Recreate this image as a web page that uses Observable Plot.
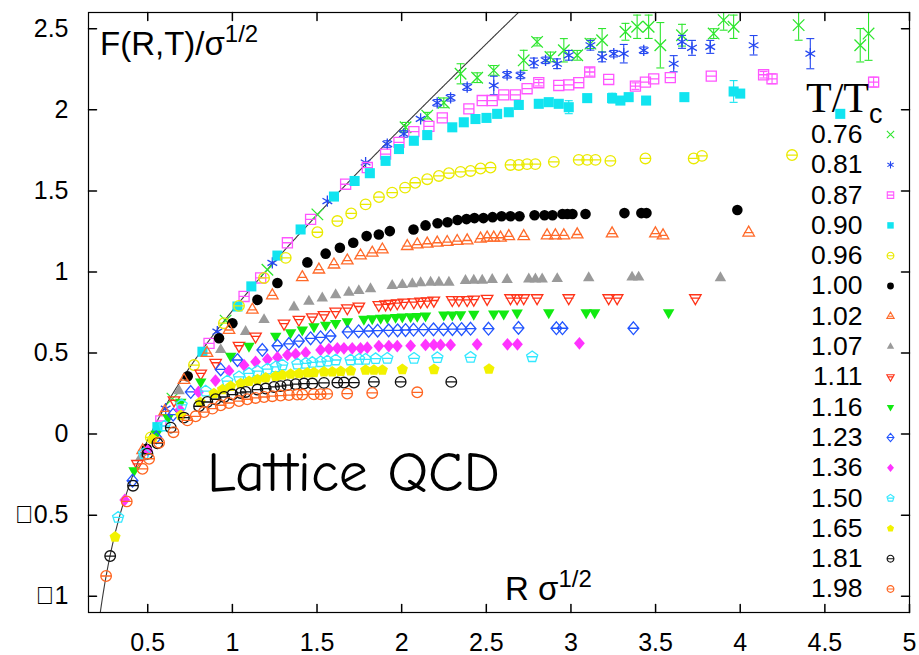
<!DOCTYPE html>
<html>
<head>
<meta charset="utf-8">
<script src="https://cdn.jsdelivr.net/npm/d3@7"></script>
<script src="https://cdn.jsdelivr.net/npm/@observablehq/plot@0.6"></script>
<style>
  html, body { margin: 0; padding: 0; background: #fff; }
  #chart { width: 919px; height: 655px; overflow: hidden; }
</style>
</head>
<body>
<div id="chart"></div>
<script>
// Temperatures T/Tc, one series each
const tempLabels = ["0.76","0.81","0.87","0.90","0.96","1.00","1.02","1.07","1.11","1.16","1.23","1.36","1.50","1.65","1.81","1.98"];

// Axis ticks
const xTicks = [0.5, 1, 1.5, 2, 2.5, 3, 3.5, 4, 4.5, 5];
const yTicks = [-1, -0.5, 0, 0.5, 1, 1.5, 2, 2.5];
const xDomain = [0.15, 5];
const yDomain = [-1.1, 2.6];

// Zero-temperature potential: F = s*R - a/R + c
const modelSlope = 0.973;
const modelCoulomb = 0.31;
const modelOffset = 0.098;

// [R sqrt(sigma), F/sqrt(sigma), error]
const t076 = [[0.646,0.219,0],[0.96,0.70,0],[1.207,1.014,0],[1.502,1.355,0],[2.023,1.892,0.03],[2.151,1.964,0.02],[2.249,2.043,0.03],[2.348,2.222,0.062],[2.446,2.198,0.03],[2.544,2.243,0.03],[2.721,2.305,0.062],[2.80,2.419,0.025],[2.879,2.326,0.03],[2.958,2.367,0.072],[3.037,2.336,0.03],[3.115,2.408,0.03],[3.184,2.429,0.072],[3.322,2.481,0.052],[3.391,2.512,0.072],[3.459,2.512,0.072],[3.528,2.398,0.14],[3.656,2.46,0.067],[3.843,2.47,0.03],[3.902,2.553,0.062],[3.961,2.512,0.072],[4.345,2.522,0.093],[4.709,2.398,0.103],[4.758,2.47,0.165]];
const t081 = [[0.606,0.157,0],[0.911,0.632,0],[1.236,1.056,0],[1.561,1.437,0],[1.787,1.675,0],[1.915,1.789,0.02],[2.013,1.851,0.02],[2.112,1.944,0],[2.21,2.043,0.02],[2.289,2.074,0.02],[2.387,2.14,0.02],[2.544,2.15,0.057],[2.623,2.216,0.02],[2.702,2.212,0.02],[2.781,2.289,0.03],[2.85,2.305,0.02],[2.918,2.284,0.03],[2.987,2.336,0.03],[3.115,2.398,0.03],[3.184,2.326,0.03],[3.253,2.346,0.02],[3.312,2.346,0.057],[3.43,2.367,0.02],[3.607,2.284,0.05],[3.656,2.419,0.04],[3.715,2.382,0.046],[3.823,2.388,0.04],[4.079,2.398,0.06],[4.414,2.346,0.093]];
const t087 = [[0.577,0.081,0],[0.862,0.56,0],[1.069,0.849,0],[1.167,0.963,0],[1.325,1.18,0],[1.462,1.324,0],[1.669,1.541,0],[1.797,1.644,0],[1.905,1.727,0],[1.984,1.799,0],[2.072,1.865,0],[2.161,1.898,0],[2.24,1.95,0],[2.397,2.006,0],[2.476,2.057,0],[2.535,2.057,0],[2.603,2.092,0],[2.672,2.092,0],[2.741,2.13,0],[2.81,2.167,0.02],[2.928,2.15,0],[2.987,2.154,0],[3.046,2.167,0],[3.111,2.233,0.025],[3.223,2.187,0],[3.381,2.146,0.02],[3.44,2.171,0],[3.489,2.191,0],[3.587,2.198,0],[3.829,2.208,0],[4.138,2.216,0.02],[4.188,2.191,0.03],[4.788,2.171,0.03]];
const t090 = [[0.557,0.043,0],[0.823,0.508,0],[1.03,0.787,0],[1.112,0.911,0],[1.266,1.101,0],[1.403,1.262,0],[1.6,1.465,0],[1.722,1.561,0],[1.812,1.609,0],[1.905,1.685,0],[1.984,1.758,0],[2.072,1.809,0],[2.151,1.844,0],[2.299,1.892,0.02],[2.367,1.923,0],[2.436,1.943,0],[2.501,1.95,0],[2.564,1.975,0],[2.633,1.985,0],[2.692,2.03,0],[2.81,2.037,0],[2.869,2.047,0],[2.928,2.037,0],[2.987,2.016,0.04],[3.096,2.072,0],[3.243,2.072,0.03],[3.292,2.057,0],[3.341,2.078,0],[3.444,2.057,0],[3.67,2.078,0],[3.961,2.113,0.067],[4.0,2.10,0],[4.591,1.975,0]];
const t096 = [[0.518,-0.02],[0.773,0.426],[0.95,0.684],[1.039,0.791],[1.187,0.963],[1.315,1.087],[1.502,1.245],[1.62,1.314],[1.702,1.361],[1.787,1.417],[1.866,1.462],[1.944,1.489],[2.02,1.52],[2.08,1.55],[2.151,1.572],[2.22,1.592],[2.279,1.609],[2.348,1.617],[2.407,1.623],[2.466,1.638],[2.525,1.644],[2.643,1.66],[2.692,1.66],[2.741,1.665],[2.79,1.665],[2.899,1.679],[3.046,1.691],[3.096,1.691],[3.145,1.691],[3.233,1.685],[3.44,1.7],[3.725,1.7],[3.774,1.716],[4.306,1.721]];
const t100 = [[0.494,-0.09],[0.736,0.357],[0.921,0.591],[1.0,0.684],[1.148,0.828],[1.266,0.932],[1.443,1.059],[1.551,1.113],[1.635,1.149],[1.714,1.18],[1.793,1.221],[1.865,1.231],[1.93,1.252],[2.07,1.262],[2.141,1.287],[2.212,1.3],[2.271,1.307],[2.33,1.32],[2.383,1.326],[2.43,1.332],[2.483,1.332],[2.537,1.338],[2.59,1.344],[2.643,1.344],[2.696,1.344],[2.785,1.35],[2.844,1.35],[2.891,1.35],[2.95,1.357],[2.979,1.357],[3.009,1.357],[3.086,1.357],[3.316,1.363],[3.416,1.363],[3.446,1.363],[3.983,1.382]];
const t102 = [[0.47,-0.1],[0.6,0.14],[0.714,0.333],[0.85,0.5],[0.98,0.642],[1.118,0.766],[1.236,0.855],[1.413,0.967],[1.511,1.014],[1.6,1.045],[1.679,1.07],[1.757,1.101],[1.826,1.118],[1.886,1.138],[2.033,1.159],[2.092,1.169],[2.151,1.174],[2.21,1.18],[2.269,1.184],[2.328,1.19],[2.387,1.194],[2.466,1.205],[2.505,1.211],[2.544,1.211],[2.584,1.211],[2.633,1.22],[2.721,1.22],[2.859,1.225],[2.908,1.225],[2.958,1.225],[3.037,1.231],[3.243,1.237],[3.499,1.237],[3.544,1.225],[4.05,1.242]];
const t107 = [[0.459,-0.143],[0.685,0.266],[0.931,0.52],[1.078,0.632],[1.187,0.705],[1.364,0.783],[1.452,0.818],[1.531,0.839],[1.61,0.859],[1.688,0.874],[1.747,0.884],[1.816,0.895],[1.944,0.915],[2.004,0.921],[2.063,0.926],[2.112,0.932],[2.171,0.936],[2.22,0.936],[2.279,0.936],[2.377,0.946],[2.426,0.948],[2.476,0.948],[2.535,0.952],[2.623,0.952],[2.751,0.956],[2.79,0.956],[2.83,0.956],[2.919,0.958],[3.105,0.963],[3.361,0.967],[3.4,0.967],[3.883,0.963]];
const t111 = [[0.439,-0.183],[0.655,0.209],[0.813,0.374],[0.901,0.44],[1.039,0.545],[1.137,0.603],[1.305,0.682],[1.393,0.706],[1.472,0.721],[1.541,0.735],[1.61,0.756],[1.679,0.777],[1.747,0.787],[1.865,0.797],[1.905,0.801],[1.934,0.804],[1.974,0.808],[2.013,0.812],[2.072,0.814],[2.112,0.818],[2.151,0.82],[2.19,0.824],[2.299,0.828],[2.338,0.828],[2.387,0.828],[2.426,0.83],[2.505,0.835],[2.643,0.839],[2.682,0.839],[2.721,0.839],[2.8,0.839],[2.987,0.839],[3.223,0.839],[3.273,0.839],[3.735,0.839]];
const t116 = [[0.419,-0.225],[0.55,0.0],[0.62,0.1],[0.695,0.198],[0.813,0.322],[0.99,0.481],[1.098,0.543],[1.256,0.605],[1.344,0.626],[1.413,0.643],[1.482,0.663],[1.551,0.673],[1.61,0.684],[1.679,0.694],[1.777,0.709],[1.826,0.713],[1.876,0.715],[1.915,0.717],[1.964,0.721],[2.004,0.723],[2.053,0.725],[2.092,0.727],[2.141,0.729],[2.249,0.735],[2.299,0.735],[2.348,0.737],[2.426,0.74],[2.544,0.742],[2.603,0.742],[2.682,0.748],[2.869,0.75],[3.09,0.75],[3.14,0.75],[3.577,0.75]];
const t123 = [[0.41,-0.287],[0.55,-0.02],[0.65,0.12],[0.754,0.26],[0.931,0.399],[1.03,0.457],[1.177,0.519],[1.266,0.545],[1.334,0.556],[1.393,0.574],[1.462,0.591],[1.521,0.597],[1.58,0.605],[1.681,0.63],[1.746,0.634],[1.805,0.636],[1.858,0.638],[1.923,0.64],[1.976,0.64],[2.023,0.642],[2.07,0.644],[2.129,0.644],[2.188,0.646],[2.247,0.646],[2.3,0.648],[2.354,0.648],[2.407,0.65],[2.513,0.65],[2.69,0.655],[2.914,0.653],[2.95,0.653],[3.369,0.653]];
const t136 = [[0.364,-0.406],[0.5,-0.1],[0.69,0.15],[0.8,0.26],[0.9,0.33],[0.98,0.39],[1.069,0.425],[1.137,0.446],[1.207,0.461],[1.266,0.473],[1.325,0.488],[1.374,0.494],[1.433,0.502],[1.521,0.519],[1.57,0.525],[1.62,0.529],[1.659,0.529],[1.708,0.529],[1.757,0.529],[1.797,0.533],[1.865,0.543],[1.924,0.543],[1.974,0.543],[2.053,0.545],[2.141,0.55],[2.19,0.55],[2.23,0.55],[2.289,0.55],[2.446,0.554],[2.625,0.554],[2.684,0.554],[3.05,0.56]];
const t150 = [[0.325,-0.514],[0.478,-0.121],[0.6,0.05],[0.7,0.18],[0.842,0.265],[0.97,0.327],[1.039,0.353],[1.098,0.374],[1.148,0.388],[1.207,0.401],[1.256,0.415],[1.295,0.426],[1.384,0.432],[1.433,0.436],[1.472,0.442],[1.521,0.446],[1.561,0.45],[1.61,0.457],[1.698,0.457],[1.748,0.461],[1.787,0.461],[1.846,0.465],[1.915,0.467],[2.073,0.467],[2.211,0.471],[2.407,0.473],[2.771,0.477]];
const t165 = [[0.307,-0.634],[0.528,-0.03],[0.695,0.116],[0.81,0.196],[0.891,0.25],[0.941,0.275],[0.99,0.295],[1.049,0.312],[1.098,0.326],[1.148,0.337],[1.197,0.347],[1.256,0.357],[1.295,0.364],[1.344,0.37],[1.394,0.374],[1.443,0.378],[1.482,0.38],[1.541,0.384],[1.59,0.384],[1.64,0.387],[1.699,0.39],[1.787,0.395],[1.836,0.395],[1.886,0.395],[2.004,0.399],[2.191,0.399],[2.516,0.401]];
const t181 = [[0.278,-0.752],[0.413,-0.318],[0.498,-0.121],[0.557,-0.056],[0.636,0.04],[0.714,0.102],[0.803,0.172],[0.852,0.198],[0.901,0.215],[0.951,0.229],[1.0,0.244],[1.049,0.254],[1.079,0.26],[1.148,0.275],[1.197,0.281],[1.246,0.291],[1.285,0.296],[1.325,0.302],[1.374,0.308],[1.423,0.312],[1.472,0.312],[1.541,0.316],[1.62,0.318],[1.659,0.318],[1.718,0.318],[1.836,0.322],[1.994,0.322],[2.293,0.322]];
const t198 = [[0.254,-0.875],[0.376,-0.415],[0.469,-0.214],[0.508,-0.152],[0.567,-0.053],[0.652,0.012],[0.734,0.085],[0.783,0.11],[0.832,0.136],[0.882,0.157],[0.931,0.178],[0.98,0.192],[1.039,0.204],[1.088,0.215],[1.137,0.223],[1.187,0.229],[1.236,0.234],[1.285,0.238],[1.334,0.241],[1.383,0.244],[1.413,0.244],[1.481,0.246],[1.521,0.246],[1.56,0.248],[1.678,0.25],[1.826,0.254],[2.092,0.258]];

const seriesData = [t076, t081, t087, t090, t096, t100, t102, t107, t111, t116, t123, t136, t150, t165, t181, t198];

// ---- point symbols (d3 symbol type objects) ----
const rad = size => Math.sqrt(size / Math.PI);
const circlePath = (c, r) => { c.moveTo(r, 0); c.arc(0, 0, r, 0, 2 * Math.PI); c.closePath(); };
const squarePath = (c, r) => { const h = r * 0.95; c.moveTo(-h, -h); c.lineTo(h, -h); c.lineTo(h, h); c.lineTo(-h, h); c.closePath(); };
const triPath = (c, r, dir) => { const a = r * 1.25; c.moveTo(0, -a * dir); c.lineTo(a * 0.866, a * 0.5 * dir); c.lineTo(-a * 0.866, a * 0.5 * dir); c.closePath(); };
const diamondPath = (c, r) => { const a = r * 1.2; c.moveTo(0, -a); c.lineTo(a * 0.85, 0); c.lineTo(0, a); c.lineTo(-a * 0.85, 0); c.closePath(); };
const pentPath = (c, r) => { const a = r * 1.1; for (let k = 0; k < 5; k++) { const t = -Math.PI / 2 + k * 2 * Math.PI / 5; const px = a * Math.cos(t), py = a * Math.sin(t); if (k) c.lineTo(px, py); else c.moveTo(px, py); } c.closePath(); };
const plain = fn => ({ draw(c, size) { fn(c, rad(size)); } });
const barred = fn => ({ draw(c, size) { const r = rad(size); fn(c, r); c.moveTo(-r * 0.9, 0); c.lineTo(r * 0.9, 0); } });

const symCircle = plain(circlePath), symCircleBar = barred(circlePath);
const symSquare = plain(squarePath), symSquareBar = barred(squarePath);
const symTri = plain((c, r) => triPath(c, r, 1)), symTriBar = barred((c, r) => triPath(c, r, 1));
const symTriDown = plain((c, r) => triPath(c, r, -1)), symTriDownBar = barred((c, r) => triPath(c, r, -1));
const symDiamond = plain(diamondPath), symDiamondBar = barred(diamondPath);
const symPent = plain(pentPath), symPentBar = barred(pentPath);
const symCap = { draw(c, size) { const r = rad(size); c.moveTo(-r, 0); c.lineTo(r, 0); } };

const styles = [
  { color: "#2ee62e", symbol: "times", open: true },
  { color: "#2447f0", symbol: "asterisk", open: true },
  { color: "#ff55ff", symbol: symSquareBar, open: true },
  { color: "#11e4f0", symbol: symSquare, open: false },
  { color: "#eaea00", symbol: symCircleBar, open: true },
  { color: "#000000", symbol: symCircle, open: false },
  { color: "#ff6a2a", symbol: symTriBar, open: true },
  { color: "#9a9a9a", symbol: symTri, open: false },
  { color: "#ff3318", symbol: symTriDownBar, open: true },
  { color: "#11ea11", symbol: symTriDown, open: false },
  { color: "#2255ff", symbol: symDiamondBar, open: true },
  { color: "#ff33ff", symbol: symDiamond, open: false },
  { color: "#33e8ff", symbol: symPentBar, open: true },
  { color: "#f2f200", symbol: symPent, open: false },
  { color: "#111111", symbol: symCircleBar, open: true },
  { color: "#ff6622", symbol: symCircleBar, open: true }
];

const tickShape = { draw(c, l) { c.moveTo(0, 0); c.lineTo(0, -l); } };
const curveR = d3.range(0.15, 3.0, 0.005);

const marks = [];

// zero-temperature potential curve
marks.push(Plot.line(curveR, {
  x: r => r, y: r => modelSlope * r - modelCoulomb / r + modelOffset,
  stroke: "#3a3a3a", strokeWidth: 1.1, clip: true
}));

// data series
seriesData.forEach((data, i) => {
  const st = styles[i];
  const withErr = data.filter(d => d.length > 2 && d[2] > 0);
  if (withErr.length) {
    marks.push(Plot.ruleX(withErr, { x: d => d[0], y1: d => d[1] - d[2], y2: d => d[1] + d[2], stroke: st.color, strokeWidth: 1.1, clip: true }));
    marks.push(Plot.dot(withErr, { x: d => d[0], y: d => d[1] - d[2], symbol: symCap, r: 4, stroke: st.color, strokeWidth: 1.1, clip: true }));
    marks.push(Plot.dot(withErr, { x: d => d[0], y: d => d[1] + d[2], symbol: symCap, r: 4, stroke: st.color, strokeWidth: 1.1, clip: true }));
  }
  marks.push(Plot.dot(data, {
    x: d => d[0], y: d => d[1], symbol: st.symbol, r: 5.3,
    fill: st.open ? "none" : st.color, stroke: st.open ? st.color : "none",
    strokeWidth: 1.3, clip: true
  }));
});

// key
tempLabels.forEach((label, i) => {
  const st = styles[i];
  marks.push(Plot.text([label], {
    text: d => d, frameAnchor: "top-right", lineAnchor: "middle", dx: -47, dy: 122 + i * 30.3,
    textAnchor: "end", fontSize: 26.5, fill: "#000"
  }));
  marks.push(Plot.dot([label], {
    frameAnchor: "top-right", dx: -19, dy: 122 + i * 30.3,
    symbol: st.symbol, r: 3.4,
    fill: st.open ? "none" : st.color, stroke: st.open ? st.color : "none", strokeWidth: 1.1
  }));
});

// inward ticks on all four sides
marks.push(Plot.vector(xTicks, { x: d => d, frameAnchor: "bottom", length: 8, rotate: 0, anchor: "start", shape: tickShape, stroke: "#000" }));
marks.push(Plot.vector(xTicks, { x: d => d, frameAnchor: "top", length: 8, rotate: 180, anchor: "start", shape: tickShape, stroke: "#000" }));
marks.push(Plot.vector(yTicks, { y: d => d, frameAnchor: "left", length: 8, rotate: 90, anchor: "start", shape: tickShape, stroke: "#000" }));
marks.push(Plot.vector(yTicks, { y: d => d, frameAnchor: "right", length: 8, rotate: -90, anchor: "start", shape: tickShape, stroke: "#000" }));

marks.push(Plot.axisX({ ticks: xTicks, tickSize: 0, tickPadding: 21, fontSize: 25, tickFormat: d => String(d) }));
marks.push(Plot.axisY({ ticks: yTicks, tickSize: 0, tickPadding: 20, fontSize: 25, tickFormat: d => d < 0 ? "\uE000" + Math.abs(d) : String(d) }));
marks.push(Plot.frame({ stroke: "#000", strokeWidth: 1.2 }));

const svg = Plot.plot({
  width: 919, height: 655,
  marginLeft: 88, marginRight: 10, marginTop: 12, marginBottom: 43,
  x: { domain: xDomain },
  y: { domain: yDomain },
  style: { fontFamily: "'Liberation Sans', Arial, Helvetica, sans-serif", fontSize: "25px", background: "#fff", color: "#000" },
  marks
});
document.getElementById("chart").append(svg);

// rich-text labels
const g = d3.select(svg).append("g")
  .attr("fill", "#000")
  .attr("text-anchor", "start")
  .attr("font-family", "'Liberation Sans', Arial, Helvetica, sans-serif");
function rich(x, y, parts) {
  const t = g.append("text").attr("x", x).attr("y", y);
  parts.forEach(p => {
    const s = t.append("tspan").attr("font-size", p.size).text(p.text);
    if (p.dy) s.attr("dy", p.dy);
    if (p.family) s.attr("font-family", p.family);
  });
  return t;
}
rich(100, 55, [{ text: "F(R,T)/\u03C3", size: 33 }, { text: "1/2", size: 24, dy: -13 }]);
rich(505, 600, [{ text: "R \u03C3", size: 33 }, { text: "1/2", size: 24, dy: -13 }]);
rich(806, 112, [{ text: "T/T", size: 42, family: "'Liberation Serif', 'Times New Roman', serif" }, { text: "c", size: 27, dy: 11 }]);
g.append("text").attr("x", 207).attr("y", 491)
  .attr("font-family", "'Comic Sans MS', 'Comic Neue', Lato, sans-serif")
  .attr("font-size", 56).attr("textLength", 293).attr("lengthAdjust", "spacingAndGlyphs")
  .text("Lattice QCD");
</script>
</body>
</html>
